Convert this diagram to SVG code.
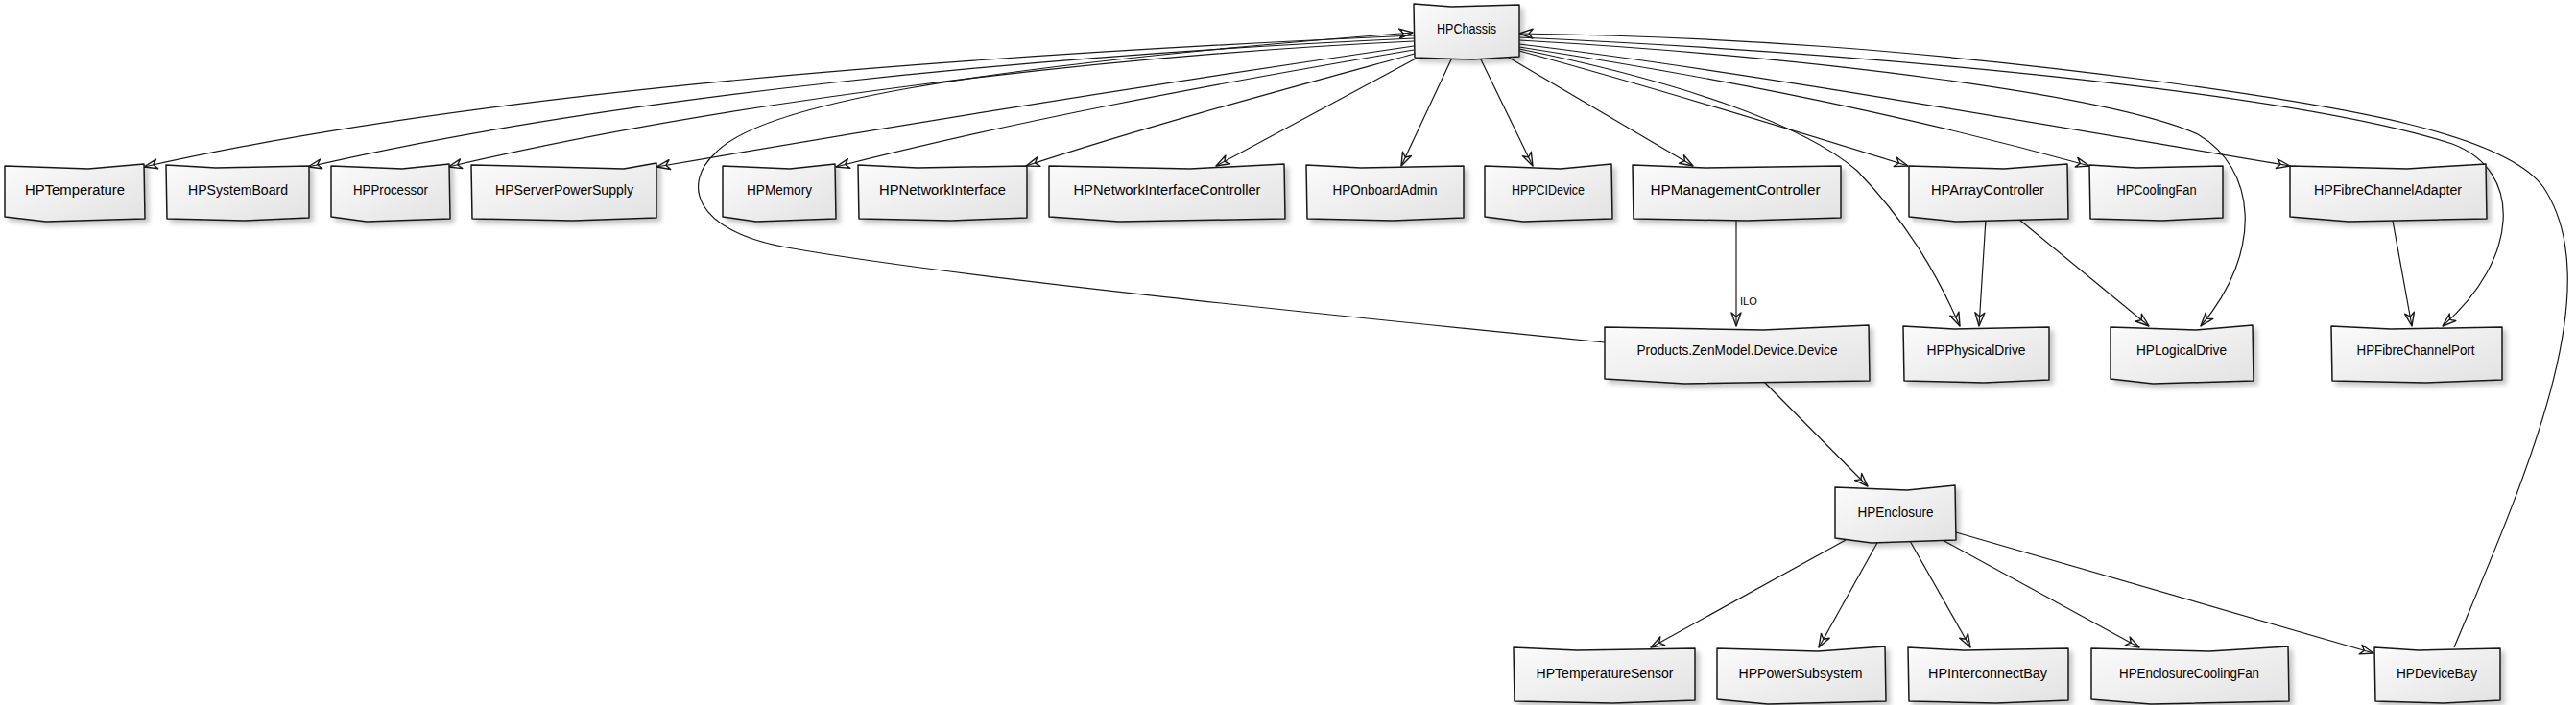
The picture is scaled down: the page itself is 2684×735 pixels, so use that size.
<svg xmlns="http://www.w3.org/2000/svg" width="2684" height="735" viewBox="0 0 2684 735">
<defs>
<linearGradient id="g" x1="0" y1="0" x2="1" y2="1">
<stop offset="0" stop-color="#fbfbfb"/>
<stop offset="1" stop-color="#e2e2e2"/>
</linearGradient>
<filter id="sh" x="-10%" y="-20%" width="130%" height="150%">
<feDropShadow dx="4" dy="4" stdDeviation="2.5" flood-color="#000" flood-opacity="0.22"/>
</filter>
<marker id="ah" viewBox="0 0 16 12" refX="15" refY="6" markerWidth="16" markerHeight="12" markerUnits="userSpaceOnUse" orient="auto">
<path d="M1,1 L15,6 L1,11 L5,6 Z" fill="none" stroke="#181818" stroke-width="1.4" stroke-linejoin="round"/>
</marker>
</defs>
<style>
.box{fill:url(#g);stroke:#181818;stroke-width:1.5;stroke-linejoin:round;filter:url(#sh)}
.lbl{font-family:"Liberation Sans",Arial,sans-serif;font-size:14px;fill:#000;text-anchor:middle}
.edge{fill:none;stroke:#181818;stroke-width:1.2;marker-end:url(#ah)}
.plain{fill:none;stroke:#181818;stroke-width:1.2}
.elbl{font-family:"Liberation Sans",Arial,sans-serif;font-size:11px;fill:#000}
</style>
<rect width="2684" height="735" fill="#ffffff"/>
<g id="connectors">
<path class="edge" d="M1473,37 C1000,58 500,95 150,174"/>
<path class="edge" d="M1473,40 C1080,58 640,100 321,174"/>
<path class="edge" d="M1473,43 C1150,58 760,105 467,174"/>
<path class="edge" d="M1473,48 C1200,88 950,128 684,174"/>
<path class="edge" d="M1473,52 C1250,90 1050,128 871,174"/>
<path class="edge" d="M1474,56 C1350,90 1200,130 1069,173"/>
<path class="edge" d="M1477,60 L1267,173"/>
<path class="edge" d="M1513,60 L1460,173"/>
<path class="edge" d="M1542,60 L1597,173"/>
<path class="edge" d="M1572,60 L1764,173"/>
<path class="edge" d="M1583,53 C1700,85 1850,130 1988,173"/>
<path class="edge" d="M1583,49 C1750,75 1950,110 2177,173"/>
<path class="edge" d="M1583,46 C1800,72 2100,125 2386,173"/>
<path class="edge" d="M1583,51 C1750,85 1880,130 1935,178 C1990,235 2020,290 2042,340"/>
<path class="edge" d="M1583,42 C1900,60 2200,100 2290,140 C2350,175 2360,260 2293,340"/>
<path class="edge" d="M1583,39 C2000,58 2400,100 2555,150 C2630,178 2625,270 2545,340"/>
<path class="edge" d="M2557,675 C2630,500 2720,300 2650,195 C2610,140 2450,112 2250,85 C2000,52 1800,38 1583,35"/>
<path class="edge" d="M1672,357 C1400,330 1000,290 820,258 C720,240 712,190 745,160 C790,110 1000,70 1472,34"/>
<path class="edge" d="M1809,228 L1809,340"/>
<text class="elbl" x="1813" y="318">ILO</text>
<path class="edge" d="M1838,398 L1946,507"/>
<path class="edge" d="M2069,229 L2062,340"/>
<path class="edge" d="M2104,229 L2239,340"/>
<path class="edge" d="M2493,230 L2513,340"/>
<path class="edge" d="M1923,563 L1720,675"/>
<path class="edge" d="M1957,564 L1895,675"/>
<path class="edge" d="M1990,564 L2053,675"/>
<path class="edge" d="M2024,563 L2229,675"/>
<path class="edge" d="M2038,555 L2473,681"/>
</g>
<g id="HPChassis"><path class="box" d="M1473,4 L1512,7 L1583,5 L1583,59 L1534,62 L1474,60 Z"/><text class="lbl" x="1528" y="35" textLength="62" lengthAdjust="spacingAndGlyphs">HPChassis</text></g>
<g id="HPTemperature"><path class="box" d="M5,173 L92,176 L150,171 L151,228 L48,231 L5,226 Z"/><text class="lbl" x="78" y="203" textLength="104" lengthAdjust="spacingAndGlyphs">HPTemperature</text></g>
<g id="HPSystemBoard"><path class="box" d="M173,172 L225,175 L322,173 L322,227 L255,230 L174,228 Z"/><text class="lbl" x="248" y="203" textLength="104" lengthAdjust="spacingAndGlyphs">HPSystemBoard</text></g>
<g id="HPProcessor"><path class="box" d="M345,173 L419,176 L468,171 L469,228 L382,231 L345,226 Z"/><text class="lbl" x="407" y="203" textLength="78" lengthAdjust="spacingAndGlyphs">HPProcessor</text></g>
<g id="HPServerPowerSupply"><path class="box" d="M491,172 L650,176 L684,170 L684,227 L597,230 L492,228 Z"/><text class="lbl" x="588" y="203" textLength="144" lengthAdjust="spacingAndGlyphs">HPServerPowerSupply</text></g>
<g id="HPMemory"><path class="box" d="M753,173 L823,176 L870,171 L871,228 L788,231 L753,226 Z"/><text class="lbl" x="812" y="203" textLength="68" lengthAdjust="spacingAndGlyphs">HPMemory</text></g>
<g id="HPNetworkInterface"><path class="box" d="M894,172 L956,175 L1070,173 L1070,227 L991,230 L895,228 Z"/><text class="lbl" x="982" y="203" textLength="132" lengthAdjust="spacingAndGlyphs">HPNetworkInterface</text></g>
<g id="HPNetworkInterfaceController"><path class="box" d="M1093,173 L1240,176 L1338,171 L1339,228 L1166,231 L1093,226 Z"/><text class="lbl" x="1216" y="203" textLength="195" lengthAdjust="spacingAndGlyphs">HPNetworkInterfaceController</text></g>
<g id="HPOnboardAdmin"><path class="box" d="M1361,172 L1418,175 L1525,173 L1525,227 L1451,230 L1362,228 Z"/><text class="lbl" x="1443" y="203" textLength="109" lengthAdjust="spacingAndGlyphs">HPOnboardAdmin</text></g>
<g id="HPPCIDevice"><path class="box" d="M1547,173 L1626,176 L1679,171 L1680,228 L1587,231 L1547,226 Z"/><text class="lbl" x="1613" y="203" textLength="76" lengthAdjust="spacingAndGlyphs">HPPCIDevice</text></g>
<g id="HPManagementController"><path class="box" d="M1701,172 L1777,175 L1918,173 L1918,227 L1820,230 L1702,228 Z"/><text class="lbl" x="1808" y="203" textLength="177" lengthAdjust="spacingAndGlyphs">HPManagementController</text></g>
<g id="HPArrayController"><path class="box" d="M1989,173 L2088,176 L2154,171 L2155,228 L2038,231 L1989,226 Z"/><text class="lbl" x="2071" y="203" textLength="118" lengthAdjust="spacingAndGlyphs">HPArrayController</text></g>
<g id="HPCoolingFan"><path class="box" d="M2177,172 L2226,175 L2316,173 L2316,227 L2253,230 L2178,228 Z"/><text class="lbl" x="2247" y="203" textLength="83" lengthAdjust="spacingAndGlyphs">HPCoolingFan</text></g>
<g id="HPFibreChannelAdapter"><path class="box" d="M2386,173 L2508,176 L2590,171 L2591,228 L2447,231 L2386,226 Z"/><text class="lbl" x="2488" y="203" textLength="154" lengthAdjust="spacingAndGlyphs">HPFibreChannelAdapter</text></g>
<g id="ProductsZenModelDeviceDevice"><path class="box" d="M1672,341 L1837,344 L1947,339 L1948,397 L1755,400 L1672,395 Z"/><text class="lbl" x="1810" y="370" textLength="209" lengthAdjust="spacingAndGlyphs">Products.ZenModel.Device.Device</text></g>
<g id="HPPhysicalDrive"><path class="box" d="M1983,340 L2036,343 L2135,341 L2135,396 L2067,399 L1984,397 Z"/><text class="lbl" x="2059" y="370" textLength="103" lengthAdjust="spacingAndGlyphs">HPPhysicalDrive</text></g>
<g id="HPLogicalDrive"><path class="box" d="M2199,341 L2288,344 L2347,339 L2348,397 L2243,400 L2199,395 Z"/><text class="lbl" x="2273" y="370" textLength="94" lengthAdjust="spacingAndGlyphs">HPLogicalDrive</text></g>
<g id="HPFibreChannelPort"><path class="box" d="M2429,340 L2491,343 L2607,341 L2607,396 L2527,399 L2430,397 Z"/><text class="lbl" x="2517" y="370" textLength="123" lengthAdjust="spacingAndGlyphs">HPFibreChannelPort</text></g>
<g id="HPEnclosure"><path class="box" d="M1912,508 L1987,511 L2037,506 L2038,563 L1950,566 L1912,561 Z"/><text class="lbl" x="1975" y="539" textLength="79" lengthAdjust="spacingAndGlyphs">HPEnclosure</text></g>
<g id="HPTemperatureSensor"><path class="box" d="M1577,675 L1643,678 L1766,676 L1766,730 L1681,733 L1578,731 Z"/><text class="lbl" x="1672" y="707" textLength="143" lengthAdjust="spacingAndGlyphs">HPTemperatureSensor</text></g>
<g id="HPPowerSubsystem"><path class="box" d="M1789,676 L1894,679 L1964,674 L1965,731 L1842,734 L1789,729 Z"/><text class="lbl" x="1876" y="707" textLength="129" lengthAdjust="spacingAndGlyphs">HPPowerSubsystem</text></g>
<g id="HPInterconnectBay"><path class="box" d="M1988,675 L2046,678 L2155,676 L2155,730 L2080,733 L1989,731 Z"/><text class="lbl" x="2071" y="707" textLength="124" lengthAdjust="spacingAndGlyphs">HPInterconnectBay</text></g>
<g id="HPEnclosureCoolingFan"><path class="box" d="M2179,676 L2302,679 L2384,674 L2385,731 L2241,734 L2179,729 Z"/><text class="lbl" x="2281" y="707" textLength="146" lengthAdjust="spacingAndGlyphs">HPEnclosureCoolingFan</text></g>
<g id="HPDeviceBay"><path class="box" d="M2474,675 L2520,678 L2605,676 L2605,730 L2546,733 L2475,731 Z"/><text class="lbl" x="2539" y="707" textLength="84" lengthAdjust="spacingAndGlyphs">HPDeviceBay</text></g>
</svg>
